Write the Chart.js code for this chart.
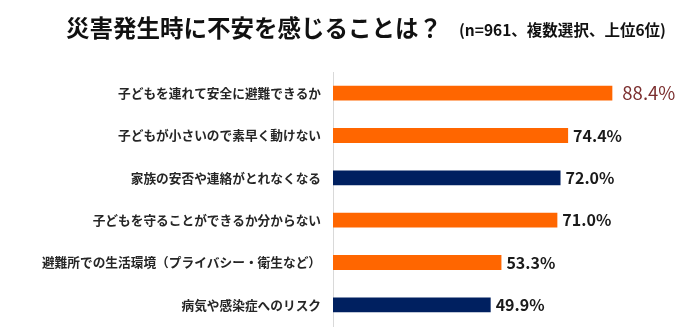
<!DOCTYPE html>
<html>
<head>
<meta charset="utf-8">
<script src="https://cdn.jsdelivr.net/npm/chart.js@4/dist/chart.umd.min.js"></script>
<style>
html,body{margin:0;padding:0;background:#fff;}
#wrap{position:relative;width:695px;height:335px;}
</style>
</head>
<body>
<div id="wrap"><canvas id="c" width="695" height="335"></canvas></div>
<script>
const categories = [
  "子どもを連れて安全に避難できるか",
  "子どもが小さいので素早く動けない",
  "家族の安否や連絡がとれなくなる",
  "子どもを守ることができるか分からない",
  "避難所での生活環境（プライバシー・衛生など）",
  "病気や感染症へのリスク"
];
const values = [88.4, 74.4, 72.0, 71.0, 53.3, 49.9];
const valueLabels = ["88.4%", "74.4%", "72.0%", "71.0%", "53.3%", "49.9%"];
const barColors = ["#FF6600", "#FF6600", "#002060", "#FF6600", "#FF6600", "#002060"];
const titleText = "災害発生時に不安を感じることは？";
const subtitleText = "(n=961、複数選択、上位6位)";

const FONT = "'Noto Sans CJK JP', 'Noto Sans', sans-serif";

const titlePlugin = {
  id: 'titlePlugin',
  afterDraw(chart) {
    const ctx = chart.ctx;
    ctx.save();
    ctx.fillStyle = '#111';
    ctx.textBaseline = 'middle';
    ctx.textAlign = 'left';
    ctx.font = "bold 23.5px " + FONT;
    ctx.fillText(titleText, 66, 28);
    ctx.font = "bold 15.5px " + FONT;
    ctx.fillText(subtitleText, 459, 30);
    ctx.restore();
  }
};

const valuePlugin = {
  id: 'valuePlugin',
  afterDatasetsDraw(chart) {
    const ctx = chart.ctx;
    const meta = chart.getDatasetMeta(0);
    ctx.save();
    ctx.textBaseline = 'middle';
    ctx.textAlign = 'left';
    meta.data.forEach((bar, i) => {
      if (i === 0) {
        ctx.font = "18.5px " + FONT;
        ctx.fillStyle = '#7B2E2E';
        ctx.fillText(valueLabels[i], bar.x + 10, bar.y);
      } else {
        ctx.font = "bold 16px " + FONT;
        ctx.fillStyle = '#1a1a1a';
        ctx.fillText(valueLabels[i], bar.x + 5, bar.y);
      }
    });
    ctx.restore();
  }
};

new Chart(document.getElementById('c'), {
  type: 'bar',
  data: {
    labels: categories,
    datasets: [{
      data: values,
      backgroundColor: barColors,
      borderWidth: 0,
      barPercentage: 0.35,
      categoryPercentage: 1.0
    }]
  },
  options: {
    indexAxis: 'y',
    responsive: false,
    animation: false,
    devicePixelRatio: 1,
    layout: { padding: { left: 0, right: 46, top: 72, bottom: 9 } },
    plugins: {
      legend: { display: false },
      tooltip: { enabled: false },
      title: { display: false }
    },
    scales: {
      x: {
        display: false,
        min: 0,
        max: 100
      },
      y: {
        afterFit(scale) {
          scale.width = 333;
          scale.paddingTop = 0;
          scale.paddingBottom = 0;
        },
        grid: { display: false, drawTicks: false },
        border: { display: true, color: '#d9d9d9', width: 1 },
        ticks: {
          padding: 12,
          color: '#262626',
          font: { family: FONT, size: 12.7, weight: 'bold' }
        }
      }
    }
  },
  plugins: [titlePlugin, valuePlugin]
});
</script>
</body>
</html>
